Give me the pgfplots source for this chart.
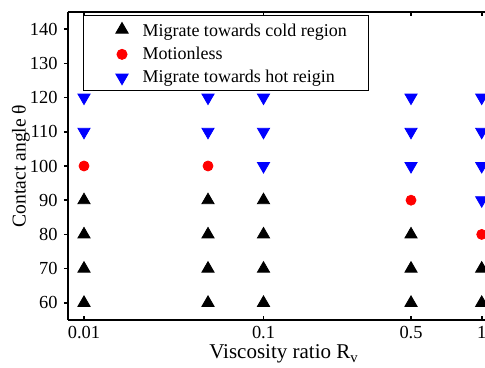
\documentclass[border=0pt]{standalone}
\usepackage{pgfplots}
\pgfplotsset{compat=1.18}
\usepackage{fontspec}
\setmainfont{Liberation Serif}

% Regime map: x holds the plotting position of each viscosity ratio
% (0.01, 0.05, 0.1, 0.5, 1), y the contact angle in degrees.
\pgfplotstableread{
pos   theta
16    60
16    70
16    80
16    90
140   60
140   70
140   80
140   90
195.5 60
195.5 70
195.5 80
195.5 90
343   60
343   70
343   80
413.7 60
413.7 70
}\coldtab
\pgfplotstableread{
pos   theta
16    100
140   100
343   90
413.7 80
}\stilltab
\pgfplotstableread{
pos   theta
16    110
16    120
140   110
140   120
195.5 100
195.5 110
195.5 120
343   100
343   110
343   120
413.7 90
413.7 100
413.7 110
413.7 120
}\hottab

\begin{document}
\fontsize{9pt}{11pt}\selectfont
\begin{tikzpicture}
\begin{axis}[
  name=ax,
  scale only axis,
  width=208.5pt, height=154pt,
  xmin=0, xmax=417,
  ymin=55, ymax=145,
  axis y line*=left,
  axis line style={line width=1.2pt},
  xtick={16,195.5,343,413.7},
  xticklabels={0.01,0.1,0.5,1},
  ytick={60,70,...,140},
  x tick style={line width=0.8pt, black},
  y tick style={line width=0.8pt, black},
  xtick align=inside,
  ytick align=outside,
  major tick length=2pt,
  tick label style={font=\fontsize{9.2pt}{11pt}\selectfont},
  /pgf/number format/assume math mode=true,
  xlabel={Viscosity ratio R\textsubscript{v}},
  ylabel={Contact angle θ},
  xlabel style={font=\fontsize{10.5pt}{12pt}\selectfont,
    at={(axis description cs:0.518,-0.1266)}, anchor=base},
  ylabel style={font=\fontsize{9.8pt}{12pt}\selectfont,
    at={(axis description cs:-0.113,0.5)}, anchor=center},
  clip marker paths=true,
  legend style={
    at={(0.036,0.99)}, anchor=north west,
    draw=black, line width=0.5pt,
    font=\fontsize{9pt}{11pt}\selectfont,
    inner xsep=4pt, inner ysep=0.5pt,
    row sep=0pt,
  },
  legend cell align=left,
  legend image code/.code={%
    \path (-6pt,-1pt) (17pt,1pt);
    \pgfinterruptboundingbox
    \draw[#1] plot coordinates {(9pt,0pt)};
    \endpgfinterruptboundingbox},
]
\addplot[only marks, mark=triangle*, mark size=3.5pt, black, fill=black]
  table[x=pos, y=theta] {\coldtab};
\addlegendentry{\raisebox{0pt}[\dimexpr\height+1.5pt][\depth]{Migrate towards cold region\hspace{5pt}}}
\addplot[only marks, mark=*, mark size=2.5pt, red, fill=red]
  table[x=pos, y=theta] {\stilltab};
\addlegendentry{Motionless}
\addplot[only marks, mark=triangle*, mark options={rotate=180}, mark size=3.5pt, blue, fill=blue]
  table[x=pos, y=theta] {\hottab};
\addlegendentry{\raisebox{0pt}[\height][-2pt]{Migrate towards hot reigin}}
\end{axis}
\pgfresetboundingbox
\path ([xshift=-34pt,yshift=-24pt]ax.south west) rectangle ([yshift=6pt]ax.north east);
\end{tikzpicture}
\end{document}
